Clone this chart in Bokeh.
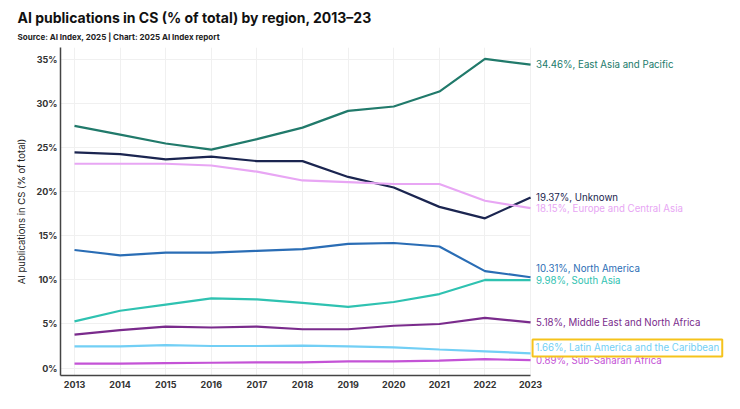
from bokeh.plotting import figure
from bokeh.models import (ColumnDataSource, FixedTicker, PrintfTickFormatter,
                          Title, LabelSet, Label, Range1d, Grid)
from bokeh.core.properties import value
from bokeh.embed import file_html
from bokeh.resources import INLINE

years = [2013, 2014, 2015, 2016, 2017, 2018, 2019, 2020, 2021, 2022, 2023]

east_asia_pacific = [27.5, 26.5, 25.5, 24.8, 26.0, 27.3, 29.2, 29.7, 31.4, 35.1, 34.46]
unknown = [24.5, 24.3, 23.7, 24.0, 23.5, 23.5, 21.7, 20.5, 18.3, 17.0, 19.37]
europe_central_asia = [23.2, 23.2, 23.2, 23.0, 22.3, 21.3, 21.1, 20.9, 20.9, 19.0, 18.15]
north_america = [13.4, 12.8, 13.1, 13.1, 13.3, 13.5, 14.1, 14.2, 13.8, 11.0, 10.31]
south_asia = [5.3, 6.5, 7.2, 7.9, 7.8, 7.4, 6.95, 7.5, 8.4, 10.0, 9.98]
middle_east_north_africa = [3.8, 4.3, 4.7, 4.6, 4.7, 4.4, 4.4, 4.8, 5.0, 5.7, 5.18]
latin_america_caribbean = [2.45, 2.45, 2.6, 2.5, 2.5, 2.55, 2.45, 2.35, 2.1, 1.9, 1.66]
sub_saharan_africa = [0.5, 0.5, 0.55, 0.6, 0.65, 0.65, 0.75, 0.75, 0.85, 1.0, 0.89]

region_names = ["East Asia and Pacific", "Unknown", "Europe and Central Asia",
                "North America", "South Asia", "Middle East and North Africa",
                "Latin America and the Caribbean", "Sub-Saharan Africa"]
series = [east_asia_pacific, unknown, europe_central_asia, north_america,
          south_asia, middle_east_north_africa, latin_america_caribbean,
          sub_saharan_africa]
colors = ["#217a6b", "#1b2550", "#e8a6f4", "#2a6db5",
          "#2fc2b1", "#7a2b8c", "#72cff5", "#c453d6"]
# screen-pixel nudges for end labels to avoid overlap
label_nudge = [0, 0, 0, 9, 0, 0, 5.5, 0]

y_ticks = [0, 5, 10, 15, 20, 25, 30, 35]

FONT = "Inter"
X0, X1 = 2012.693, 2027.34  # frame extends right to hold the end labels

p = figure(width=740, height=409, output_backend="svg", toolbar_location=None,
           x_range=Range1d(X0, X1), y_range=Range1d(-0.85, 36.4),
           min_border_left=60, min_border_right=12, min_border_top=47,
           min_border_bottom=34)
p.outline_line_color = None
p.background_fill_color = "white"

# grid
p.xgrid.grid_line_color = "#f0f0f0"
p.xgrid.ticker = FixedTicker(ticks=years)
if "cross_bounds" in Grid.properties():
    p.ygrid.grid_line_color = "#f0f0f0"
    p.ygrid.ticker = FixedTicker(ticks=y_ticks)
    p.ygrid.cross_bounds = (X0, years[-1])
else:
    p.ygrid.grid_line_color = None
    p.segment(x0=[X0] * len(y_ticks), x1=[years[-1]] * len(y_ticks),
              y0=y_ticks, y1=y_ticks, line_color="#f0f0f0", line_width=1,
              level="underlay")

for vals, col in zip(series, colors):
    p.line(years, vals, line_color=col, line_width=2.2)

# axes
p.xaxis.ticker = FixedTicker(ticks=years)
p.xaxis.bounds = (X0, years[-1])
p.yaxis.ticker = FixedTicker(ticks=y_ticks)
p.yaxis.formatter = PrintfTickFormatter(format="%d%%")
for ax in (p.xaxis[0], p.yaxis[0]):
    ax.axis_line_color = "#444444"
    ax.axis_line_width = 1.5
    ax.major_tick_line_color = None
    ax.minor_tick_line_color = None
    ax.major_tick_out = 0
    ax.major_tick_in = 0
    ax.minor_tick_out = 0
    ax.minor_tick_in = 0
    ax.major_label_text_font = FONT
    ax.major_label_text_font_size = "9px"
    ax.major_label_text_font_style = "bold"
    ax.major_label_text_color = "#333333"
p.xaxis.major_label_standoff = 5
p.yaxis.major_label_standoff = 3
p.yaxis.axis_label = "AI publications in CS (% of total)"
p.yaxis.axis_label_text_font = FONT
p.yaxis.axis_label_text_font_size = "9.5px"
p.yaxis.axis_label_text_font_style = "normal"
p.yaxis.axis_label_text_color = "#222222"
p.yaxis.axis_label_standoff = 6

# end labels
last_vals = [s[-1] for s in series]
texts = [f"{v:.2f}%, {n}" for v, n in zip(last_vals, region_names)]
li = region_names.index("Latin America and the Caribbean")
idx = [i for i in range(len(series)) if i != li]
src = ColumnDataSource(dict(
    x=[years[-1]] * len(idx),
    y=[last_vals[i] for i in idx],
    text=[texts[i] for i in idx],
    color=[colors[i] for i in idx],
    yo=[label_nudge[i] for i in idx],
))
labels = LabelSet(x="x", y="y", text="text", source=src, x_offset=5.5, y_offset="yo",
                  text_color="color", text_font=value(FONT), text_font_size="9.7px",
                  text_baseline="middle", text_align="left")
p.add_layout(labels)

lac_label = Label(x=years[-1], y=last_vals[li], text=texts[li], x_offset=2,
                  y_offset=label_nudge[li],
                  text_color=colors[li], text_font=FONT, text_font_size="9.7px",
                  text_baseline="middle", text_align="left",
                  border_line_color="#f5c31c", border_line_width=2, padding=3)
p.add_layout(lac_label)

sub = Title(text="Source: AI Index, 2025 | Chart: 2025 AI Index report", align="left",
            text_font=FONT, text_font_size="8px", text_font_style="bold",
            text_color="#222222", offset=-43, standoff=12)
p.add_layout(sub, "above")
main = Title(text="AI publications in CS (% of total) by region, 2013\u201323", align="left",
             text_font=FONT, text_font_size="14px", text_font_style="bold",
             text_color="#111111", offset=-43, standoff=-5)
p.add_layout(main, "above")

open("out.html", "w").write(file_html(p, INLINE))
